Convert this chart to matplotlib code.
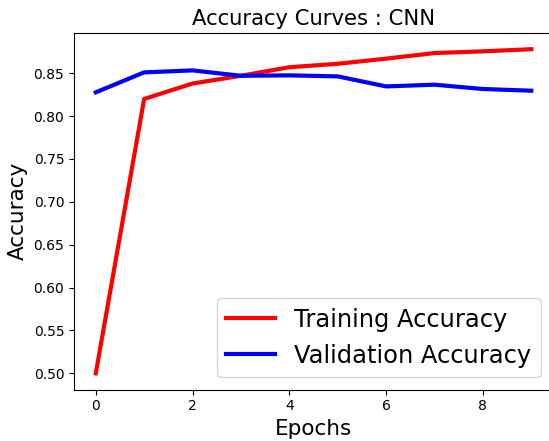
import matplotlib
matplotlib.use("Agg")
import matplotlib.pyplot as plt

epochs = list(range(10))
train_acc = [0.500, 0.820, 0.838, 0.847, 0.857, 0.861, 0.867, 0.8735, 0.8755, 0.878]
val_acc = [0.8277, 0.851, 0.8533, 0.847, 0.8475, 0.8463, 0.8346, 0.8366, 0.8316, 0.8296]

fig = plt.figure(figsize=(5.49, 4.41), dpi=100)
ax = fig.add_axes([74/549, 1-389.5/441, (553-74)/549, (389.5-33)/441])
ax.plot(epochs, train_acc, 'r', linewidth=3.0, label='Training Accuracy')
ax.plot(epochs, val_acc, 'b', linewidth=3.0, label='Validation Accuracy')
ax.legend(fontsize=17.4, loc='lower right', bbox_to_anchor=(1.0, 0.0), bbox_transform=ax.transAxes,
          borderaxespad=0.5)
ax.set_xlabel('Epochs', fontsize=15.5)
ax.set_ylabel('Accuracy', fontsize=15.5)
ax.set_title('Accuracy Curves : CNN', fontsize=15.2)
fig.savefig('out.png', dpi=100)
